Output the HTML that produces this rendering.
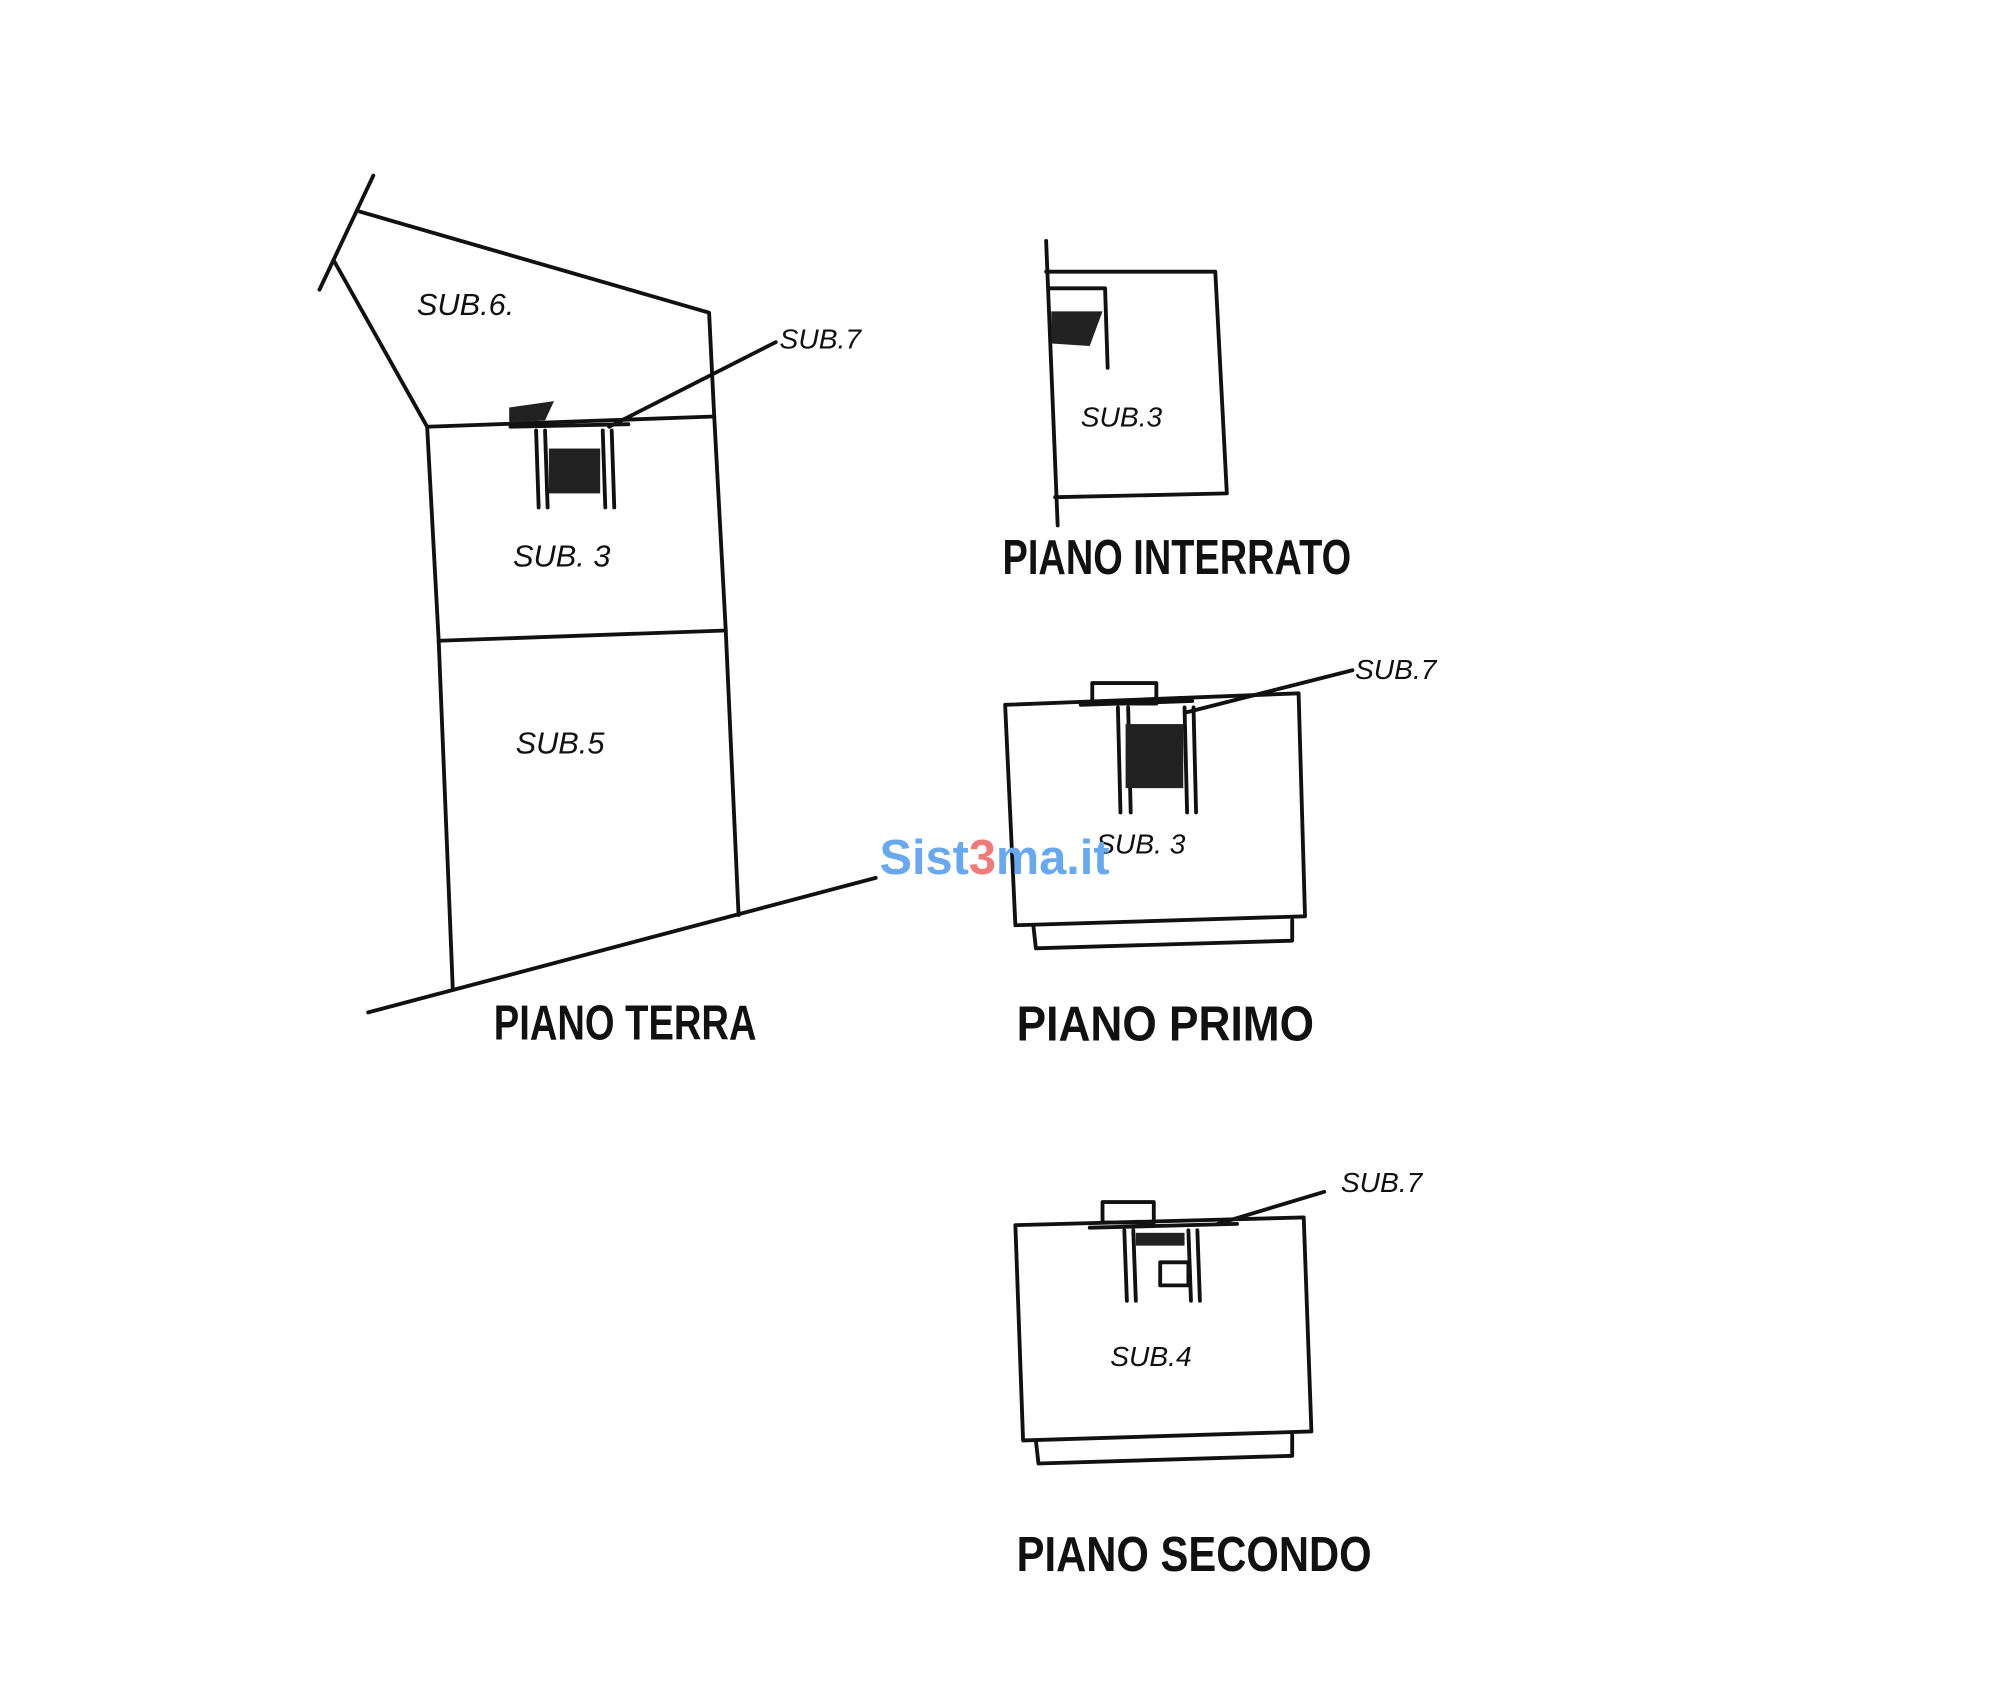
<!DOCTYPE html>
<html><head><meta charset="utf-8"><style>
html,body{margin:0;padding:0;background:#fff}
svg{display:block}
text{font-family:"Liberation Sans",sans-serif;fill:#111}
</style></head><body>
<svg width="2000" height="1707" viewBox="0 0 1560 1332" xmlns="http://www.w3.org/2000/svg">
<g fill="none" stroke="#111" stroke-width="3" stroke-linecap="round" stroke-linejoin="round">
<line x1="291" y1="137" x2="249" y2="226"/>
<polyline points="260,203 333,333 342,500 353,772"/>
<polyline points="280,165 553,244 557,325 566,492 576,714"/>
<line x1="333" y1="333" x2="557" y2="325"/>
<line x1="342" y1="500" x2="566" y2="492"/>
<line x1="287" y1="790" x2="683" y2="685"/>
<line x1="398" y1="333" x2="490" y2="331"/>
<line x1="418" y1="336" x2="420" y2="396"/>
<line x1="425" y1="336" x2="427" y2="396"/>
<line x1="470" y1="336" x2="472" y2="396"/>
<line x1="477" y1="336" x2="479" y2="396"/>
<line x1="605" y1="267" x2="475" y2="333"/>
<line x1="816" y1="188" x2="825" y2="410"/>
<polyline points="816,212 948,212 957,385 823,388"/>
<polyline points="818,225 862,225 864,287"/>
<polygon points="784,550 1013,541 1018,715 792,722"/>
<polyline points="806,722 808,740 1008,734 1008,718"/>
<line x1="843" y1="550" x2="930" y2="547"/>
<line x1="872" y1="552" x2="874" y2="634"/>
<line x1="880" y1="552" x2="882" y2="634"/>
<line x1="924" y1="552" x2="926" y2="634"/>
<line x1="931" y1="552" x2="933" y2="634"/>
<line x1="1055" y1="523" x2="925" y2="556"/>
<rect x="852" y="533" width="50" height="16"/>
<polygon points="792,956 1017,950 1023,1117 798,1124"/>
<polyline points="808,1124 810,1142 1008,1136 1008,1120"/>
<line x1="850" y1="958" x2="965" y2="955"/>
<line x1="877" y1="960" x2="879" y2="1015"/>
<line x1="884" y1="960" x2="886" y2="1015"/>
<line x1="927" y1="960" x2="929" y2="1015"/>
<line x1="934" y1="960" x2="936" y2="1015"/>
<rect x="860" y="938" width="40" height="16"/>
<rect x="905" y="985" width="22" height="18"/>
<line x1="1033" y1="930" x2="950" y2="955"/>
</g>
<g fill="#222">
<rect x="428" y="350" width="40" height="35"/>
<polygon points="397,318 432,313 425,328 397,330"/>
<polygon points="820,243 860,243 850,270 820,268"/>
<rect x="878" y="565" width="45" height="50"/>
<rect x="886" y="962" width="38" height="10"/>
</g>
<g font-size="24" font-style="italic">
<text x="325" y="246">SUB.6.</text>
<text x="608" y="272" font-size="22">SUB.7</text>
<text x="400" y="442">SUB. 3</text>
<text x="402" y="588">SUB.5</text>
<text x="843" y="333" font-size="22">SUB.3</text>
<text x="1057" y="530" font-size="22">SUB.7</text>
<text x="855" y="666" font-size="22">SUB. 3</text>
<text x="1046" y="930" font-size="22">SUB.7</text>
<text x="866" y="1066" font-size="22">SUB.4</text>
</g>
<g font-size="38" font-weight="bold">
<text x="385" y="811" textLength="205" lengthAdjust="spacingAndGlyphs">PIANO TERRA</text>
<text x="782" y="448" textLength="272" lengthAdjust="spacingAndGlyphs">PIANO INTERRATO</text>
<text x="793" y="812" textLength="232" lengthAdjust="spacingAndGlyphs">PIANO PRIMO</text>
<text x="793" y="1226" textLength="277" lengthAdjust="spacingAndGlyphs">PIANO SECONDO</text>
</g>
<text x="686" y="682" font-size="38" font-weight="bold" style="fill:#6aa8ee">Sist<tspan style="fill:#f07a7a">3</tspan>ma.it</text>
</svg>
</body></html>
